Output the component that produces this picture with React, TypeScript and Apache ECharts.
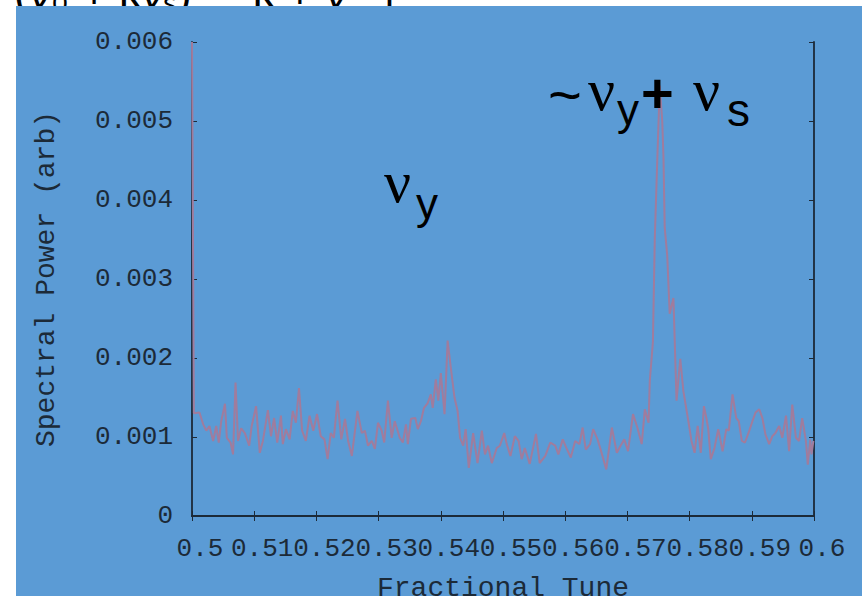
import React, { useEffect, useRef } from "react";
import * as echarts from "echarts";

const tune: number[] = [
  0.5, 0.5003, 0.5012, 0.5018, 0.5023, 0.5028, 0.5034, 0.5039, 0.5043, 0.5047, 0.5053,
  0.5056, 0.5062, 0.5066, 0.507, 0.5074, 0.5079, 0.5085, 0.5092, 0.5096, 0.5103,
  0.5109, 0.5114, 0.5122, 0.5127, 0.5132, 0.5137, 0.5143, 0.5146, 0.5151, 0.5157,
  0.5162, 0.5167, 0.5172, 0.5177, 0.5183, 0.5189, 0.5195, 0.5201, 0.5207, 0.5213,
  0.5218, 0.5223, 0.5228, 0.5234, 0.524, 0.5246, 0.5251, 0.5257, 0.5266, 0.5273,
  0.5278, 0.5283, 0.5289, 0.5294, 0.5299, 0.5305, 0.5309, 0.5315, 0.5321, 0.5326,
  0.5334, 0.5339, 0.5344, 0.5347, 0.5352, 0.5359, 0.5363, 0.5368, 0.5373, 0.5379,
  0.5384, 0.5387, 0.5392, 0.5396, 0.54, 0.5406, 0.5411, 0.5416, 0.5422, 0.5427,
  0.5431, 0.5436, 0.544, 0.5445, 0.5452, 0.5459, 0.5466, 0.5471, 0.5476, 0.5482,
  0.549, 0.5495, 0.5502, 0.5506, 0.5512, 0.5519, 0.5525, 0.553, 0.5535, 0.5543,
  0.5553, 0.5559, 0.5568, 0.5576, 0.5584, 0.5589, 0.5596, 0.5602, 0.5609, 0.5616,
  0.5623, 0.5628, 0.5633, 0.564, 0.5645, 0.5652, 0.5657, 0.5666, 0.5675, 0.5683,
  0.5689, 0.5695, 0.5701, 0.5709, 0.5716, 0.5723, 0.5728, 0.5734, 0.5736, 0.5741,
  0.5744, 0.5748, 0.5751, 0.5752, 0.5756, 0.5758, 0.576, 0.5764, 0.5768, 0.5774,
  0.5779, 0.5785, 0.579, 0.5798, 0.5803, 0.5808, 0.5813, 0.5818, 0.5823, 0.5827,
  0.583, 0.5834, 0.584, 0.5846, 0.5853, 0.5859, 0.5863, 0.5869, 0.5875, 0.5879,
  0.5884, 0.5889, 0.5896, 0.5901, 0.5906, 0.5912, 0.5917, 0.5922, 0.5928, 0.5933,
  0.5938, 0.5944, 0.5949, 0.5955, 0.596, 0.5965, 0.5971, 0.5976, 0.5981, 0.5987,
  0.599, 0.5994, 0.5996, 0.5999,
];

const power: number[] = [
  0.006, 0.0013, 0.00131, 0.00116, 0.00108, 0.00114, 0.00095, 0.00114, 0.00093, 0.0012, 0.00142,
  0.00099, 0.00093, 0.00078, 0.00169, 0.00095, 0.00111, 0.00105, 0.00089, 0.00114, 0.00139,
  0.0008, 0.00095, 0.00134, 0.00101, 0.00124, 0.00093, 0.00127, 0.00091, 0.0011, 0.00097,
  0.00133, 0.00118, 0.00162, 0.00108, 0.00095, 0.00127, 0.00108, 0.00129, 0.00101, 0.00097,
  0.00072, 0.00105, 0.00099, 0.00146, 0.00097, 0.00123, 0.00095, 0.00076, 0.00133, 0.00105,
  0.00108, 0.00089, 0.00095, 0.00085, 0.00118, 0.00108, 0.00093, 0.00146, 0.00099, 0.0012,
  0.00099, 0.00093, 0.00116, 0.00091, 0.00123, 0.00124, 0.0011, 0.0012, 0.00137, 0.00143,
  0.00154, 0.00137, 0.00173, 0.00146, 0.00181, 0.00129, 0.00222, 0.00188, 0.0015, 0.00133,
  0.00099, 0.00089, 0.0011, 0.00061, 0.00105, 0.00067, 0.00108, 0.00078, 0.00089, 0.00067,
  0.00086, 0.00089, 0.00105, 0.00091, 0.00076, 0.00101, 0.00095, 0.00072, 0.00086, 0.00066,
  0.00104, 0.00067, 0.00076, 0.00093, 0.00089, 0.00078, 0.00097, 0.00086, 0.00074, 0.00095,
  0.00091, 0.00112, 0.00084, 0.00091, 0.0011, 0.00097, 0.00084, 0.00059, 0.00112, 0.0008,
  0.00089, 0.00097, 0.00082, 0.00129, 0.00112, 0.00091, 0.00135, 0.00118, 0.00171, 0.0022,
  0.0035, 0.0045, 0.0052, 0.00545, 0.005, 0.00454, 0.00365, 0.0033, 0.00256, 0.00276,
  0.00146, 0.00199, 0.00158, 0.0012, 0.00095, 0.0008, 0.00114, 0.0008, 0.00139, 0.00124,
  0.0011, 0.00072, 0.00086, 0.0011, 0.00082, 0.0011, 0.00108, 0.00154, 0.00124, 0.0012,
  0.00095, 0.00093, 0.00108, 0.0012, 0.00131, 0.00135, 0.00124, 0.00103, 0.00091, 0.00101,
  0.00105, 0.00114, 0.00099, 0.00127, 0.00082, 0.00141, 0.00099, 0.00095, 0.00124, 0.00095,
  0.00065, 0.00097, 0.00078, 0.00095,
];

const xTickLabels: string[] = ["0.5", "0.51", "0.52", "0.53", "0.54", "0.55", "0.56", "0.57", "0.58", "0.59", "0.6"];
const yTickLabels: string[] = ["0", "0.001", "0.002", "0.003", "0.004", "0.005", "0.006"];

const xName = "Fractional Tune";
const yName = "Spectral Power (arb)";

const BLUE = "#5b9bd5";
const INK = "#1c2a38";
const LINE = "#a07c9d";
const MONO = "'Liberation Mono', 'DejaVu Sans Mono', monospace";

export default function App() {
  const ref = useRef<HTMLDivElement>(null);
  useEffect(() => {
    if (!ref.current) return;
    const chart = echarts.init(ref.current, undefined, { renderer: "svg" });
    const xFmt = (v: number) => xTickLabels[Math.round((v - 0.5) / 0.01)] ?? "";
    const yFmt = (v: number) => yTickLabels[Math.round(v / 0.001)] ?? "";
    const axisLine = { show: true, lineStyle: { color: INK, width: 1.8 } };
    const tick = { show: true, inside: true, length: 5, lineStyle: { color: INK, width: 1 } };
    chart.setOption({
      animation: false,
      backgroundColor: "#ffffff",
      grid: { left: 192, right: 48, top: 42, bottom: 80, containLabel: false, outerBoundsMode: "none" },
      xAxis: [
        {
          type: "value", min: 0.5, max: 0.6, interval: 0.01, position: "bottom",
          axisLine, axisTick: tick, splitLine: { show: false },
          axisLabel: { formatter: xFmt, fontFamily: MONO, fontSize: 26, color: INK, margin: 20, padding: [0, 0, 0, 16] },
          name: xName, nameLocation: "middle", nameGap: 58,
          nameTextStyle: { fontFamily: MONO, fontSize: 28, color: INK },
        },
        {
          type: "value", min: 0.5, max: 0.6, interval: 0.01, position: "top",
          axisLine, axisTick: tick, splitLine: { show: false }, axisLabel: { show: false },
        },
      ],
      yAxis: [
        {
          type: "value", min: 0, max: 0.006, interval: 0.001, position: "left",
          axisLine, axisTick: tick, splitLine: { show: false },
          axisLabel: { formatter: yFmt, fontFamily: MONO, fontSize: 26, color: INK, margin: 19 },
          name: yName, nameLocation: "middle", nameGap: 132,
          nameTextStyle: { fontFamily: MONO, fontSize: 28, color: INK },
        },
        {
          type: "value", min: 0, max: 0.006, interval: 0.001, position: "right",
          axisLine, axisTick: tick, splitLine: { show: false }, axisLabel: { show: false },
        },
      ],
      series: [
        {
          type: "line",
          data: tune.map((t, i) => [t, power[i]]),
          showSymbol: false,
          lineStyle: { color: LINE, width: 2 },
          itemStyle: { color: LINE },
          z: 3,
        },
      ],
      graphic: {
        elements: [
          {
            type: "text", left: 14, top: -30, z: -20, silent: true,
            style: { text: "(ν₀ + kνₛ)     k + ν   |", font: "44px 'Liberation Sans'", fill: "#000" },
          },
          { type: "rect", shape: { x: 16, y: 6, width: 846, height: 590 }, style: { fill: BLUE }, z: -10, silent: true },
          {
            type: "text", x: 384, y: 182, z: 50, silent: true,
            style: { text: "ν", font: "60px 'Liberation Serif'", fill: "#000", verticalAlign: "middle" },
          },
          {
            type: "text", x: 416, y: 203, z: 50, silent: true,
            style: { text: "y", font: "44px 'Liberation Sans'", fill: "#000", verticalAlign: "middle" },
          },
          {
            type: "text", x: 548, y: 94, z: 50, silent: true,
            style: { text: "~", font: "58px 'Liberation Sans'", fill: "#000", verticalAlign: "middle" },
          },
          {
            type: "text", x: 588, y: 90, z: 50, silent: true,
            style: { text: "ν", font: "60px 'Liberation Serif'", fill: "#000", verticalAlign: "middle" },
          },
          {
            type: "text", x: 617, y: 109, z: 50, silent: true,
            style: { text: "y", font: "44px 'Liberation Sans'", fill: "#000", verticalAlign: "middle" },
          },
          {
            type: "text", x: 641, y: 92, z: 50, silent: true,
            style: { text: "+", font: "bold 56px 'Liberation Sans'", fill: "#000", verticalAlign: "middle" },
          },
          {
            type: "text", x: 693, y: 90, z: 50, silent: true,
            style: { text: "ν", font: "60px 'Liberation Serif'", fill: "#000", verticalAlign: "middle" },
          },
          {
            type: "text", x: 727, y: 110, z: 50, silent: true,
            style: { text: "s", font: "46px 'Liberation Sans'", fill: "#000", verticalAlign: "middle" },
          },
        ],
      },
    });
    return () => chart.dispose();
  }, []);
  return <div ref={ref} style={{ position: "absolute", left: 0, top: 0, width: 862, height: 596 }} />;
}
